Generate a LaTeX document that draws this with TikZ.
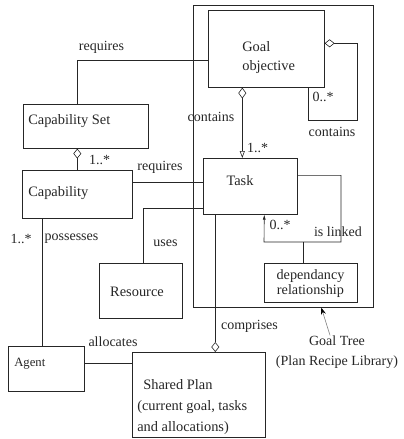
\documentclass[tikz,border=0pt]{standalone}
\usepackage{fontspec}
\setmainfont{Liberation Serif}
\usetikzlibrary{arrows.meta}

\begin{document}
\begin{tikzpicture}[x=1pt,y=-1pt,line width=0.6pt,color=black!85,
  box/.style={draw,rectangle,anchor=north west,inner sep=0pt},
  txt/.style={font=\fontsize{14.4}{19}\selectfont,inner sep=0pt,align=left},
  lbl/.style={font=\fontsize{14}{16}\selectfont,inner sep=0pt},
  agg/.style={{Diamond[open,length=10pt,width=8pt]}-},
  aggto/.style={{Diamond[open,length=11pt,width=8pt]}-{Triangle[open,length=7pt,width=5pt]}}]
\useasboundingbox (0,0) rectangle (404,439);
% goal tree frame
\node[box,minimum width=180pt,minimum height=302pt] (tree) at (193,5) {};
% classes
\node[box,fill=white,minimum width=116pt,minimum height=77pt] (goal) at (208,10) {};
\node[txt,anchor=west] (goal-t) at (242,58) {Goal\\objective};
\node[box,minimum width=125pt,minimum height=44pt] (capset) at (23,104) {};
\node[txt,anchor=west] (capset-t) at (28,121) {Capability Set};
\node[box,minimum width=110pt,minimum height=48pt] (cap) at (22,170) {};
\node[txt,anchor=west] (cap-t) at (28,193) {Capability};
\node[box,minimum width=94pt,minimum height=56pt] (task) at (203,158) {};
\node[txt] (task-t) at (240,181) {Task};
\node[box,minimum width=93pt,minimum height=39pt] (dep) at (264,263) {};
\node[txt,align=center,font=\fontsize{14.2}{15.5}\selectfont] (dep-t) at (310.5,283.5) {dependancy\\relationship};
\node[box,minimum width=83pt,minimum height=55pt] (res) at (99,263) {};
\node[txt] (res-t) at (137,292) {Resource};
\node[box,minimum width=76pt,minimum height=45pt] (agent) at (8,346) {};
\node[txt,anchor=west,font=\fontsize{12.7}{15}\selectfont] (agent-t) at (14,364) {Agent};
\node[box,minimum width=133pt,minimum height=85pt] (shared) at (132,352) {};
\node[txt,anchor=west,font=\fontsize{14.4}{21}\selectfont] (shared-t) at (137,407)
  {\hspace{6pt}Shared Plan\\(current goal, tasks\\and allocations)};
% corner points of the bent links
\coordinate (loopr) at (357,120);
\coordinate (loopl) at (308,120);
\coordinate (lnkr) at (341,242);
\coordinate (lnkl) at (264,242);
\coordinate (lnkd) at (303,242);
% links
\draw ([yshift=-11.5pt]goal.west) -| ([xshift=-8.5pt]capset.north);
\draw[agg] ([yshift=5.5pt]goal.east) -| (loopr) -- (loopl) -- (loopl |- goal.south);
\draw[aggto] ([xshift=-24pt]goal.south) -- ([xshift=-8pt]task.north);
\draw[agg] ([xshift=-8.5pt]capset.south) -- (cap.north);
\draw ([yshift=12pt]cap.east) -- ([yshift=4pt]task.west);
\draw ([yshift=-22pt]task.west) -| ([xshift=2.5pt]res.north);
\draw[-{Latex[length=5pt,width=3pt]}] ([yshift=11pt]task.east) -| (lnkr) -- (lnkl) -- ([xshift=14pt]task.south);
\draw (lnkd) -- (lnkd |- dep.north);
\draw ([xshift=-35pt]cap.south) |- ([xshift=-4pt]agent.north);
\draw[agg] ([xshift=16.5pt]shared.north) -- ([xshift=-35pt]task.south);
\draw ([yshift=5.5pt]agent.east) -- ([yshift=31.5pt]shared.west);
% link labels
\node[lbl] (l-req1) at (101.5,47) {requires};
\node[lbl] (l-cont1) at (211,117) {contains};
\node[lbl] (l-m1) at (257.5,148) {1..*};
\node[lbl] (l-m2) at (323,97) {0..*};
\node[lbl] (l-cont2) at (332,132) {contains};
\node[lbl] (l-m3) at (99.5,160) {1..*};
\node[lbl] (l-req2) at (160,167) {requires};
\node[lbl] (l-m4) at (280,225) {0..*};
\node[lbl] (l-link) at (338,232) {is linked};
\node[lbl] (l-uses) at (165.5,243) {uses};
\node[lbl] (l-m5) at (21,239) {1..*};
\node[lbl] (l-poss) at (71.5,239) {possesses};
\node[lbl] (l-comp) at (249.5,326) {comprises};
\node[lbl] (l-alloc) at (113,342) {allocates};
\node[lbl,align=center,font=\fontsize{14}{20}\selectfont] (treelbl) at (337,352) {Goal Tree\\(Plan Recipe Library)};
\draw[black!50,-{Stealth[length=7pt,width=5pt,black]}] ([xshift=-7pt]treelbl.north) -- ([xshift=38pt]tree.south);
\end{tikzpicture}
\end{document}
